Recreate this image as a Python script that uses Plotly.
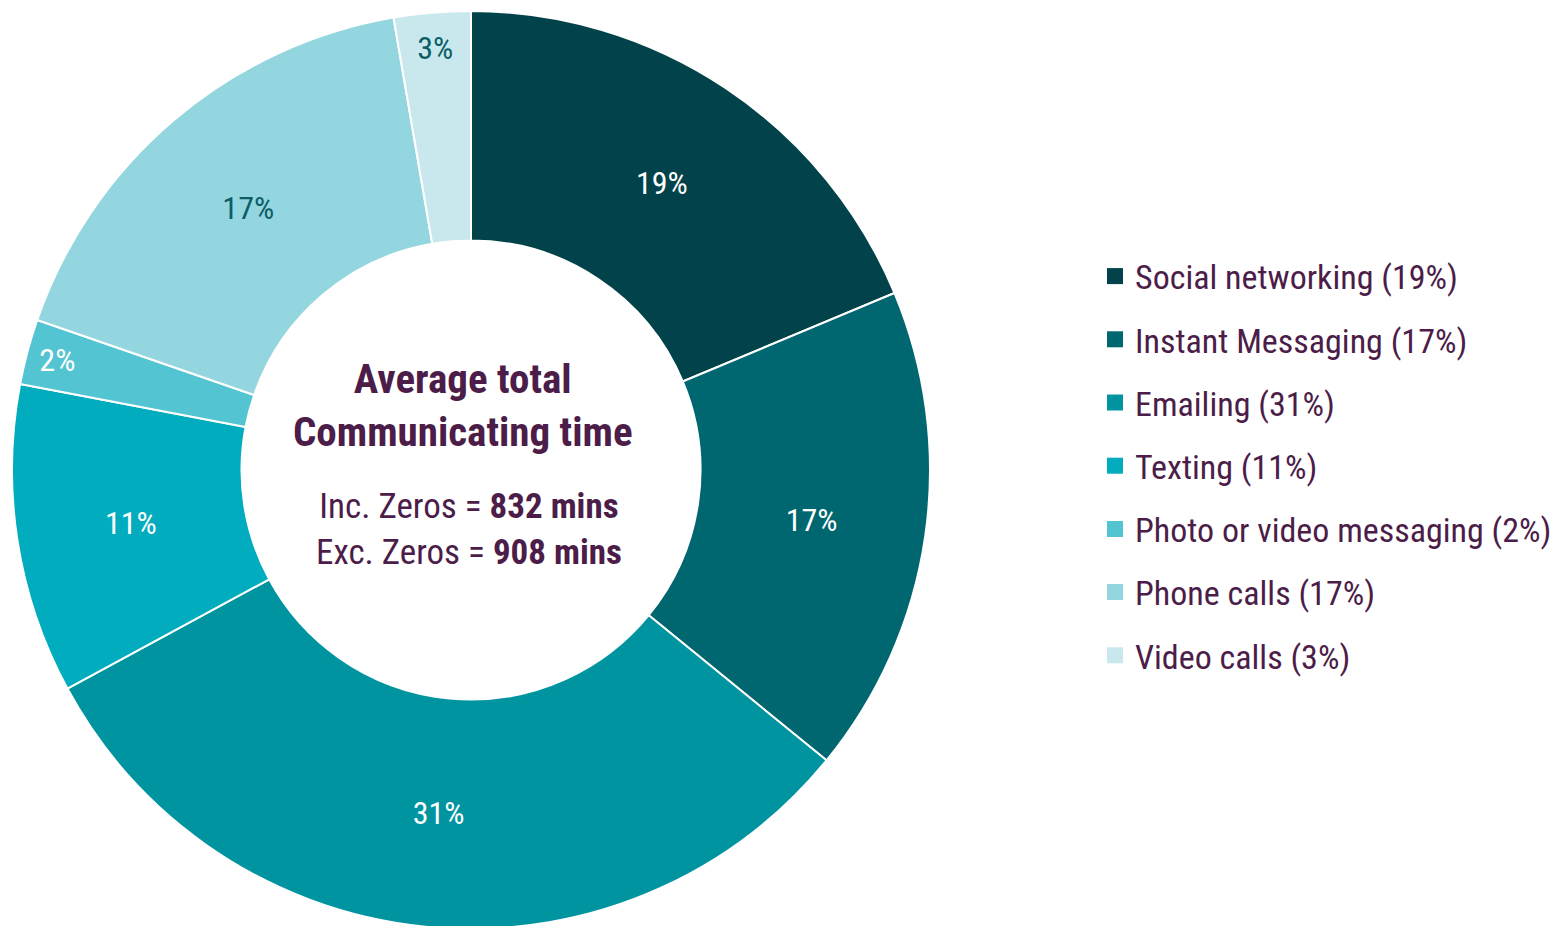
import plotly.graph_objects as go

labels = ["Social networking", "Instant Messaging", "Emailing", "Texting",
          "Photo or video messaging", "Phone calls", "Video calls"]
shares = [18.7, 17.2, 31.2, 10.9, 2.3, 17.0, 2.7]
colors = ["#02424A", "#006670", "#0094A0", "#00ACBD", "#53C4D2", "#94D6DF", "#C8E8EE"]
label_colors = ["white", "white", "white", "white", "white", "#0B5E66", "#0B5E66"]

inc_zeros = 832
exc_zeros = 908

FONT = "Liberation Sans Narrow, Arial Narrow, Roboto Condensed, sans-serif"
PURPLE = "#4B1D48"

W, H = 1566, 926
TOP, BOTTOM = 3, 5
BODY = 8  # default page margin around the plot div


def px(x, y):
    # screen pixel position -> paper coords
    return (x - BODY) / W, 1 - (y - BODY - TOP) / (H - TOP - BOTTOM)


fig = go.Figure()

fig.add_trace(go.Pie(
    labels=labels,
    values=shares,
    sort=False,
    direction="clockwise",
    rotation=0,
    hole=0.5,
    marker=dict(colors=colors, line=dict(color="white", width=2)),
    textinfo="percent",
    texttemplate="%{percent:.0%}",
    textposition="inside",
    insidetextorientation="horizontal",
    textfont=dict(family=FONT, size=32, color=label_colors),
    domain=dict(x=[(12 - BODY) / W, (930 - BODY) / W], y=[0, 1]),
    showlegend=False,
    hoverinfo="label+percent",
))

# legend entries, one group each so the rows can be spaced out
for lab, val, col in zip(labels, shares, colors):
    fig.add_trace(go.Scatter(
        x=[None], y=[None], mode="markers",
        name=f"{lab} ({round(val)}%)",
        legendgroup=lab,
        marker=dict(symbol="square", size=18, color=col),
        hoverinfo="skip",
    ))

x1, y1 = px(463, 405)
x2, y2 = px(469, 529)
fig.add_annotation(x=x1, y=y1, xref="paper", yref="paper", showarrow=False,
                   xanchor="center", yanchor="middle",
                   text="<b>Average total<br>Communicating time</b>",
                   font=dict(family=FONT, size=41, color=PURPLE))
fig.add_annotation(x=x2, y=y2, xref="paper", yref="paper", showarrow=False,
                   xanchor="center", yanchor="middle",
                   text=f"Inc. Zeros = <b>{inc_zeros} mins</b><br>Exc. Zeros = <b>{exc_zeros} mins</b>",
                   font=dict(family=FONT, size=35, color=PURPLE))

lx, ly = px(1095, 466)
fig.update_layout(
    width=W, height=H,
    margin=dict(l=0, r=0, t=TOP, b=BOTTOM),
    paper_bgcolor="white", plot_bgcolor="white",
    xaxis=dict(visible=False), yaxis=dict(visible=False),
    legend=dict(x=lx, y=ly, xanchor="left", yanchor="middle",
                font=dict(family=FONT, size=34, color=PURPLE),
                tracegroupgap=16, itemclick=False, itemdoubleclick=False),
)

fig.write_html("out.html")
